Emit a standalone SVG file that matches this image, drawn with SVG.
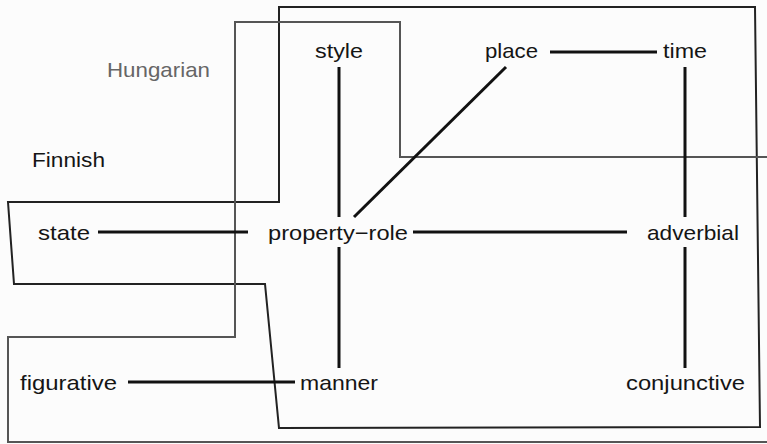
<svg xmlns="http://www.w3.org/2000/svg" width="767" height="444" viewBox="0 0 767 444">
<style>
.t{font-family:"Liberation Sans","Noto Sans CJK JP",sans-serif;font-size:21px;fill:#151515}
.g{fill:#666}
.c{stroke:#111;stroke-width:3;fill:none;stroke-linecap:butt}
.fin{stroke:#222;stroke-width:2;fill:none}
.hun{stroke:#555;stroke-width:2;fill:none}
</style>
<rect width="767" height="444" fill="#fcfcfc"/>
<g id="regions">
<polygon id="finnish-region" class="fin" points="279,7 755,7 760,427 279,428 265,284 14,284 8,202 279,202"/>
<polyline id="hungarian-region" class="hun" points="767,157 400,157 400,22 235,22 235,337 8,337 8,442 767,442"/>
</g>
<g id="connectors">
<line class="c" x1="550" y1="52" x2="657" y2="52"/>
<line class="c" x1="685" y1="67" x2="685" y2="217"/>
<line class="c" x1="339" y1="67" x2="339" y2="217"/>
<line class="c" x1="506" y1="67" x2="354" y2="217"/>
<line class="c" x1="98" y1="232" x2="248" y2="232"/>
<line class="c" x1="413" y1="232" x2="627" y2="232"/>
<line class="c" x1="685" y1="247" x2="685" y2="368"/>
<line class="c" x1="339" y1="247" x2="339" y2="368"/>
<line class="c" x1="128" y1="382" x2="295" y2="382"/>
</g>
<g id="label-hungarian"><text class="t g" x="107" y="77" textLength="103" lengthAdjust="spacingAndGlyphs">Hungarian</text></g>
<g id="label-finnish"><text class="t" x="32" y="167" textLength="73" lengthAdjust="spacingAndGlyphs">Finnish</text></g>
<g id="node-style"><text class="t" x="315" y="58" textLength="48" lengthAdjust="spacingAndGlyphs">style</text></g>
<g id="node-place"><text class="t" x="485" y="58" textLength="53" lengthAdjust="spacingAndGlyphs">place</text></g>
<g id="node-time"><text class="t" x="663" y="58" textLength="44" lengthAdjust="spacingAndGlyphs">time</text></g>
<g id="node-state"><text class="t" x="38" y="240" textLength="52" lengthAdjust="spacingAndGlyphs">state</text></g>
<g id="node-property-role"><text class="t" x="268" y="240" textLength="140" lengthAdjust="spacingAndGlyphs">property−role</text></g>
<g id="node-adverbial"><text class="t" x="647" y="240" textLength="92" lengthAdjust="spacingAndGlyphs">adverbial</text></g>
<g id="node-figurative"><text class="t" x="20" y="390" textLength="97" lengthAdjust="spacingAndGlyphs">figurative</text></g>
<g id="node-manner"><text class="t" x="300" y="390" textLength="78" lengthAdjust="spacingAndGlyphs">manner</text></g>
<g id="node-conjunctive"><text class="t" x="626" y="390" textLength="119" lengthAdjust="spacingAndGlyphs">conjunctive</text></g>
</svg>
